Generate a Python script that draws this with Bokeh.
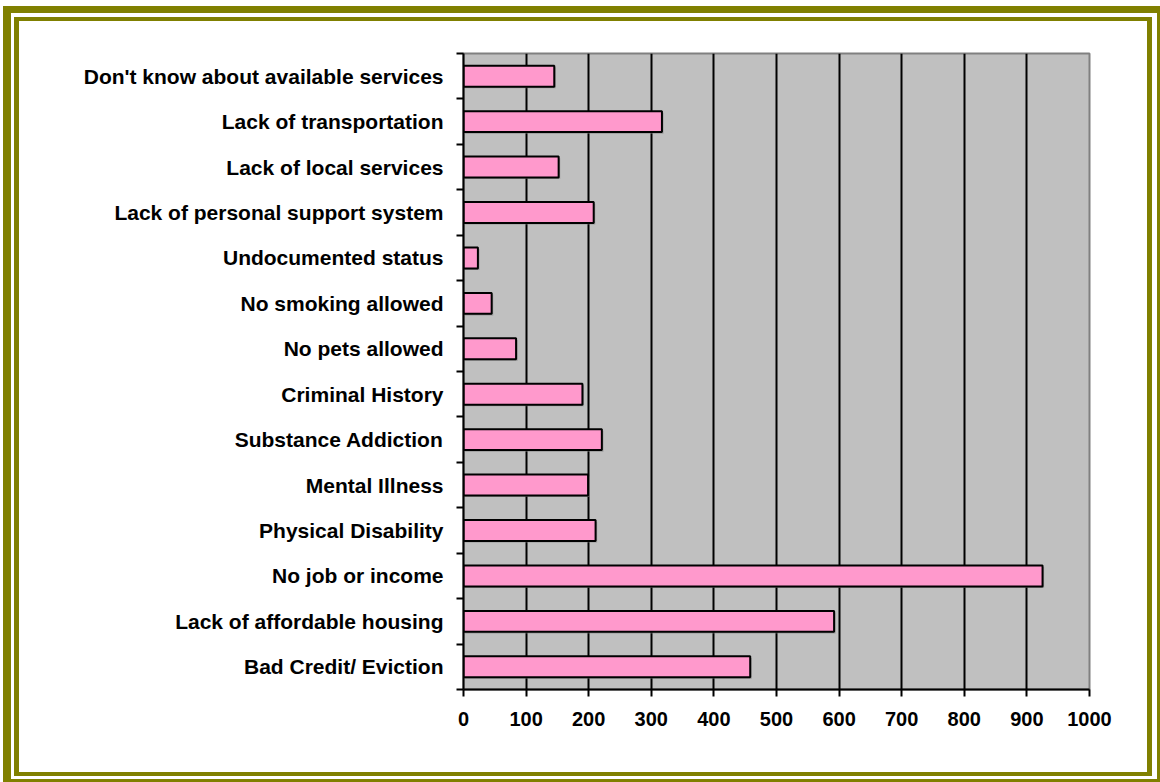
from bokeh.plotting import figure
from bokeh.models import FixedTicker, ColumnDataSource, Range1d
from bokeh.embed import file_html
from bokeh.resources import INLINE

categories = [
    "Don't know about available services",
    "Lack of transportation",
    "Lack of local services",
    "Lack of personal support system",
    "Undocumented status",
    "No smoking allowed",
    "No pets allowed",
    "Criminal History",
    "Substance Addiction",
    "Mental Illness",
    "Physical Disability",
    "No job or income",
    "Lack of affordable housing",
    "Bad Credit/ Eviction",
]
values = [145, 317, 152, 208, 23, 45, 84, 190, 221, 199, 211, 925, 592, 458]
x_ticks = [0, 100, 200, 300, 400, 500, 600, 700, 800, 900, 1000]

n = len(categories)
ypos = [n - 0.5 - i for i in range(n)]

W, H = 1160, 782
p = figure(width=W, height=H, output_backend="svg", toolbar_location=None,
           x_range=Range1d(0, 1000), y_range=Range1d(0, n),
           min_border_left=463, min_border_right=71, min_border_top=53, min_border_bottom=93)
p.background_fill_color = "#C0C0C0"
p.border_fill_alpha = 0
p.outline_line_color = "#808080"
p.outline_line_width = 2

olive = "#808000"
g = lambda c: f"linear-gradient({c},{c})"
p.styles = {
    "background": ", ".join([
        f"{g('#ffffff')} 19px 21px / 1128px 751px no-repeat",
        f"{g(olive)} 14px 17px / 1138px 759px no-repeat",
        f"{g('#ffffff')} 11px 13px / 1146px 766px no-repeat",
        f"{g(olive)} 3px 6px / 1157px 776px no-repeat",
        "#ffffff",
    ])
}

src = ColumnDataSource(dict(y=ypos, v=values, ys=[y - 0.035 for y in ypos],
                            vs=[v + 2.5 for v in values]))
p.hbar(y="ys", left=2.5, right="vs", height=0.46, source=src, fill_color="#808080",
       fill_alpha=0.6, line_color=None)
p.hbar(y="y", left=0, right="v", height=0.46, source=src, fill_color="#FF99CC",
       line_color="black", line_width=2)

xa = p.xaxis[0]
xa.ticker = FixedTicker(ticks=x_ticks)
xa.axis_line_color = "black"
xa.axis_line_width = 2
xa.major_tick_line_width = 2
xa.major_tick_out = 7
xa.major_tick_in = 0
xa.minor_tick_line_color = None
xa.major_label_standoff = 15
xa.major_label_text_font = "Liberation Sans"
xa.major_label_text_font_style = "bold"
xa.major_label_text_font_size = "20px"
xa.major_label_text_color = "black"

ya = p.yaxis[0]
ya.ticker = FixedTicker(ticks=ypos, minor_ticks=list(range(n + 1)))
ya.major_label_overrides = {y: c for y, c in zip(ypos, categories)}
ya.axis_line_color = "black"
ya.axis_line_width = 2
ya.major_tick_line_color = None
ya.major_tick_out = 0
ya.major_tick_in = 0
ya.minor_tick_line_color = "black"
ya.minor_tick_line_width = 2
ya.minor_tick_out = 7
ya.minor_tick_in = 0
ya.major_label_standoff = 13
ya.major_label_text_font = "Liberation Sans"
ya.major_label_text_font_style = "bold"
ya.major_label_text_font_size = "21px"
ya.major_label_text_color = "black"

p.xgrid.ticker = FixedTicker(ticks=x_ticks[1:-1])
p.xgrid.grid_line_color = "black"
p.xgrid.grid_line_width = 2
p.ygrid.grid_line_color = None

open("out.html", "w").write(file_html(p, INLINE))
